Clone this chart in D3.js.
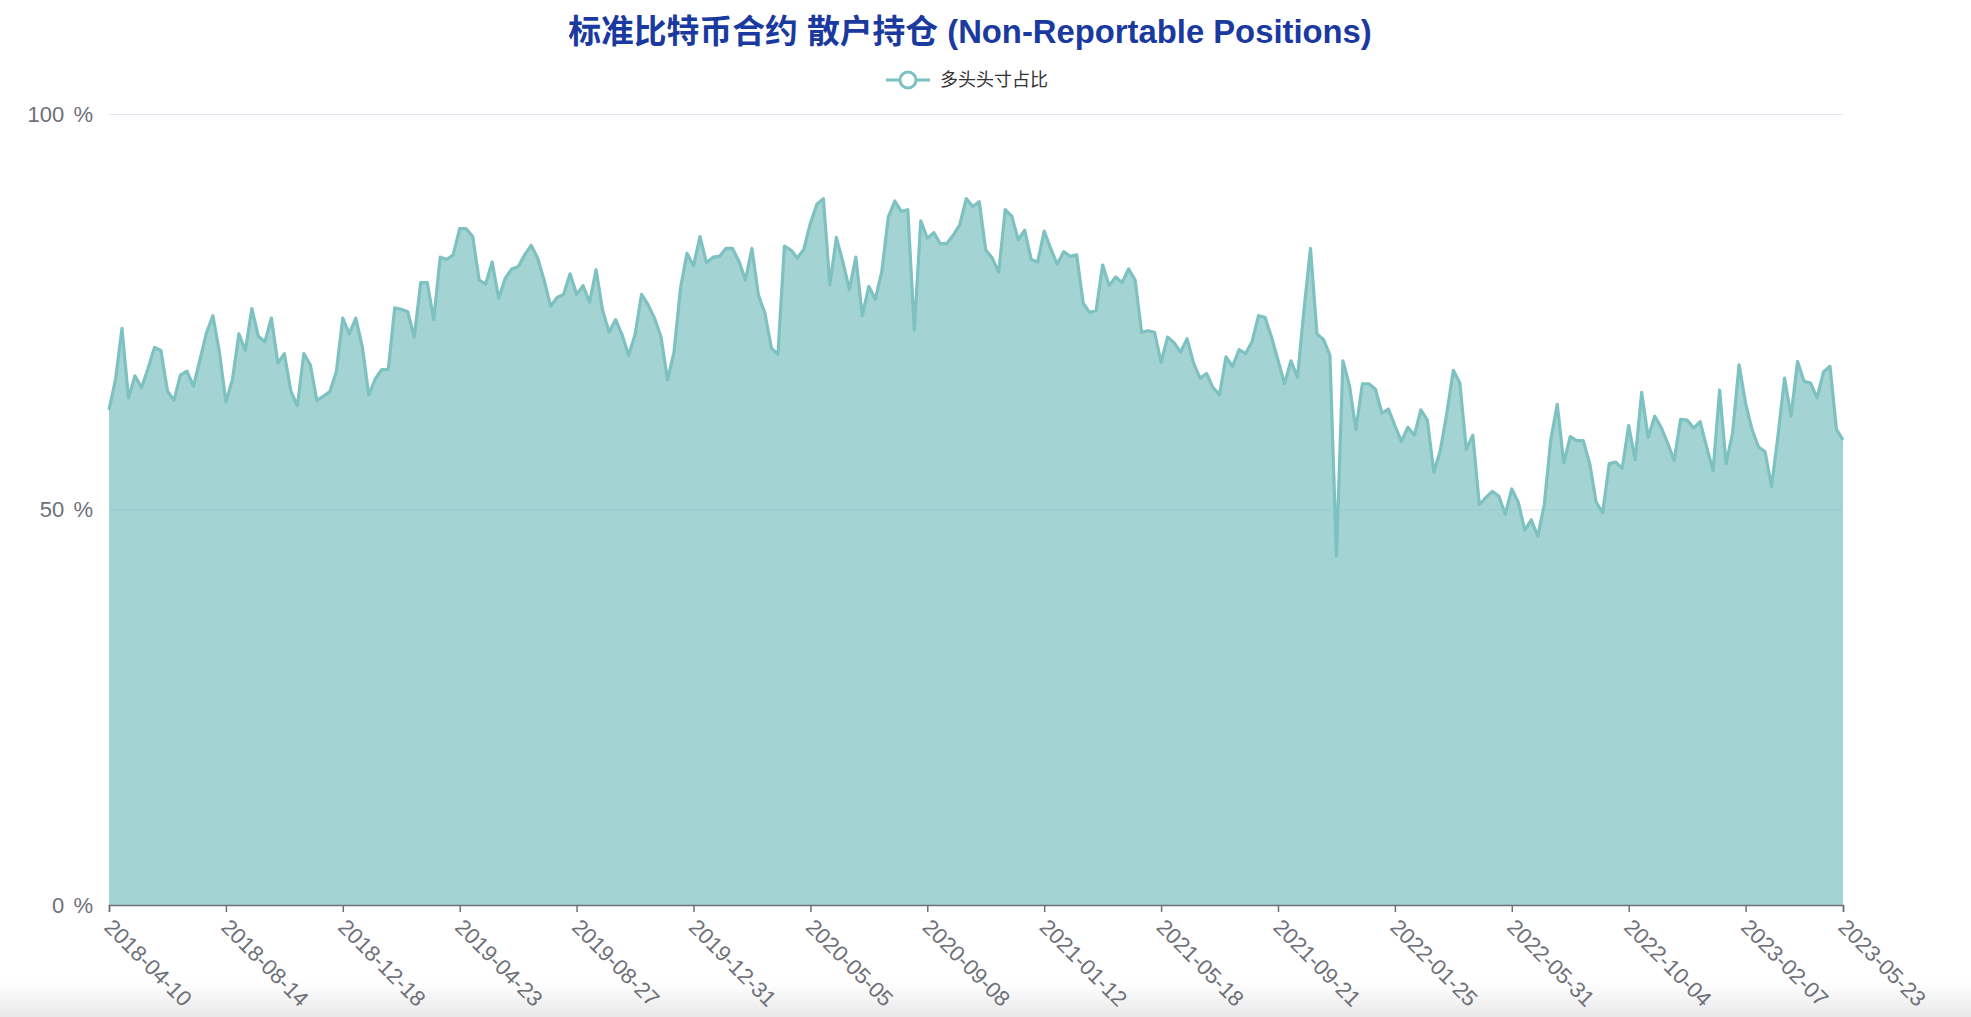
<!DOCTYPE html>
<html>
<head>
<meta charset="utf-8">
<script src="https://cdn.jsdelivr.net/npm/d3@7"></script>
<style>
  html, body { margin: 0; padding: 0; background: #fff; }
  svg { display: block; }
  text { font-family: "Liberation Sans", "Noto Sans CJK SC", sans-serif; }
</style>
</head>
<body>
<svg id="chart" width="1971" height="1017"></svg>
<script>
// ---------- data ----------
const titleText = "标准比特币合约 散户持仓 (Non-Reportable Positions)";
const seriesName = "多头头寸占比";
const startDate = "2018-04-10"; // weekly categories (Tuesdays)
const tickLabels = ["2018-04-10","2018-08-14","2018-12-18","2019-04-23","2019-08-27","2019-12-31",
  "2020-05-05","2020-09-08","2021-01-12","2021-05-18","2021-09-21","2022-01-25","2022-05-31",
  "2022-10-04","2023-02-07","2023-05-23"];
const yTicks = [0, 50, 100];
const longPct = [
  62.6,66.4,72.9,64.1,66.9,65.4,67.8,70.5,70.1,65.0,
  63.8,67.0,67.5,65.6,68.9,72.3,74.5,69.9,63.6,66.4,
  72.2,70.1,75.4,71.9,71.2,74.2,68.5,69.7,65.0,63.1,
  69.7,68.3,63.8,64.3,64.9,67.4,74.2,72.2,74.2,70.6,
  64.5,66.5,67.7,67.7,75.5,75.3,75.0,71.8,78.7,78.7,
  74.0,81.9,81.6,82.2,85.5,85.5,84.5,79.0,78.5,81.3,
  76.7,79.2,80.4,80.7,82.2,83.4,81.8,79.0,75.7,76.8,
  77.2,79.8,77.2,78.3,76.2,80.3,75.2,72.4,74.0,72.1,
  69.5,72.1,77.2,75.9,74.2,71.8,66.4,69.9,78.0,82.4,
  80.8,84.5,81.2,81.9,82.0,83.0,83.0,81.4,79.0,83.0,
  77.1,74.8,70.4,69.6,83.3,82.8,81.8,82.9,86.2,88.6,
  89.3,78.4,84.4,81.3,77.8,81.9,74.5,78.2,76.6,80.1,
  87.0,89.0,87.7,87.9,72.7,86.5,84.3,85.0,83.6,83.6,
  84.7,86.0,89.3,88.3,88.9,82.8,81.8,80.0,87.9,87.1,
  84.1,85.3,81.6,81.3,85.2,83.0,81.0,82.6,82.0,82.2,
  76.1,74.9,75.2,80.9,78.3,79.4,78.7,80.4,79.0,72.4,
  72.6,72.4,68.6,71.8,71.1,69.9,71.6,68.5,66.6,67.2,
  65.4,64.5,69.3,68.1,70.2,69.7,71.2,74.5,74.3,71.8,
  68.9,65.9,68.8,66.7,75.2,83.0,72.2,71.5,69.5,44.1,
  68.8,65.7,60.1,65.9,65.9,65.2,62.2,62.7,60.6,58.6,
  60.4,59.4,62.6,61.3,54.7,57.5,62.2,67.6,66.0,57.6,
  59.4,50.6,51.5,52.3,51.7,49.4,52.6,50.9,47.4,48.7,
  46.6,50.6,58.8,63.3,55.9,59.2,58.7,58.7,55.8,50.9,
  49.6,55.8,56.0,55.2,60.6,56.3,64.8,59.1,61.8,60.4,
  58.4,56.2,61.4,61.3,60.3,61.1,57.9,54.9,65.1,55.8,
  59.7,68.3,63.4,60.1,57.9,57.3,52.9,59.4,66.6,61.8,
  68.7,66.2,66.0,64.1,67.4,68.1,60.1,58.8
];

// ---------- build categories ----------
const fmt = d3.utcFormat("%Y-%m-%d");
const start = d3.utcParse("%Y-%m-%d")(startDate);
const categories = longPct.map((_, i) => fmt(d3.utcDay.offset(start, 7 * i)));
const data = categories.map((c, i) => ({ date: c, value: longPct[i] }));

// ---------- layout ----------
const W = 1971, H = 1017;
const plot = { left: 109, right: 1843, top: 114, bottom: 905 };
const lineColor = "#7ec1c1";
const axisColor = "#6e7079";

const svg = d3.select("#chart");

// bottom fade
const defs = svg.append("defs");
const grad = defs.append("linearGradient").attr("id", "fade").attr("x1", 0).attr("x2", 0).attr("y1", 0).attr("y2", 1);
grad.append("stop").attr("offset", "0%").attr("stop-color", "#ffffff");
grad.append("stop").attr("offset", "100%").attr("stop-color", "#e9e9e9");
svg.append("rect").attr("x", 0).attr("y", 982).attr("width", W).attr("height", H - 982).attr("fill", "url(#fade)");

const x = d3.scalePoint().domain(categories).range([plot.left, plot.right]);
const y = d3.scaleLinear().domain([0, 100]).range([plot.bottom, plot.top]);

// grid lines + y labels
const yAxis = svg.append("g").attr("transform", `translate(${plot.left},0)`)
  .call(d3.axisLeft(y).tickValues(yTicks).tickSize(-(plot.right - plot.left)).tickPadding(16)
    .tickFormat(d => d + " %"));
yAxis.select(".domain").remove();
yAxis.selectAll(".tick line").attr("stroke", "#e0e6f1").attr("stroke-width", 1.2);
yAxis.selectAll(".tick text").attr("fill", axisColor).attr("font-size", 22).attr("word-spacing", 3);

// area + line
const area = d3.area().x(d => x(d.date)).y0(y(0)).y1(d => y(d.value));
const line = d3.line().x(d => x(d.date)).y(d => y(d.value));
svg.append("path").datum(data).attr("d", area).attr("fill", lineColor).attr("fill-opacity", 0.7);
svg.append("path").datum(data).attr("d", line).attr("fill", "none")
  .attr("stroke", lineColor).attr("stroke-width", 3.2).attr("stroke-linejoin", "round");

// x axis
const xAxis = svg.append("g").attr("transform", `translate(0,${plot.bottom})`)
  .call(d3.axisBottom(x).tickValues(tickLabels).tickSizeOuter(0).tickSize(7).tickPadding(10));
xAxis.select(".domain").attr("stroke", axisColor).attr("stroke-width", 1.5);
xAxis.selectAll(".tick line").attr("stroke", axisColor).attr("stroke-width", 1.5);
xAxis.selectAll(".tick text")
  .attr("fill", axisColor).attr("font-size", 22)
  .attr("text-anchor", "start").attr("dy", "0.35em")
  .attr("y", 0)
  .attr("transform", "translate(-1,18) rotate(45)");

// title
svg.append("text").attr("x", 970).attr("y", 31).attr("text-anchor", "middle")
  .attr("dominant-baseline", "central")
  .attr("font-size", 32.8).attr("font-weight", "bold").attr("fill", "#1a3a9f").text(titleText);

// legend
const lg = svg.append("g").attr("transform", "translate(886,80)");
lg.append("line").attr("x1", 0).attr("x2", 44).attr("y1", 0).attr("y2", 0)
  .attr("stroke", lineColor).attr("stroke-width", 3);
lg.append("circle").attr("cx", 22).attr("cy", 0).attr("r", 8)
  .attr("fill", "#fff").attr("stroke", lineColor).attr("stroke-width", 3);
lg.append("text").attr("x", 54).attr("y", 0).attr("dominant-baseline", "central")
  .attr("font-size", 18).attr("fill", "#333").text(seriesName);
</script>
</body>
</html>
